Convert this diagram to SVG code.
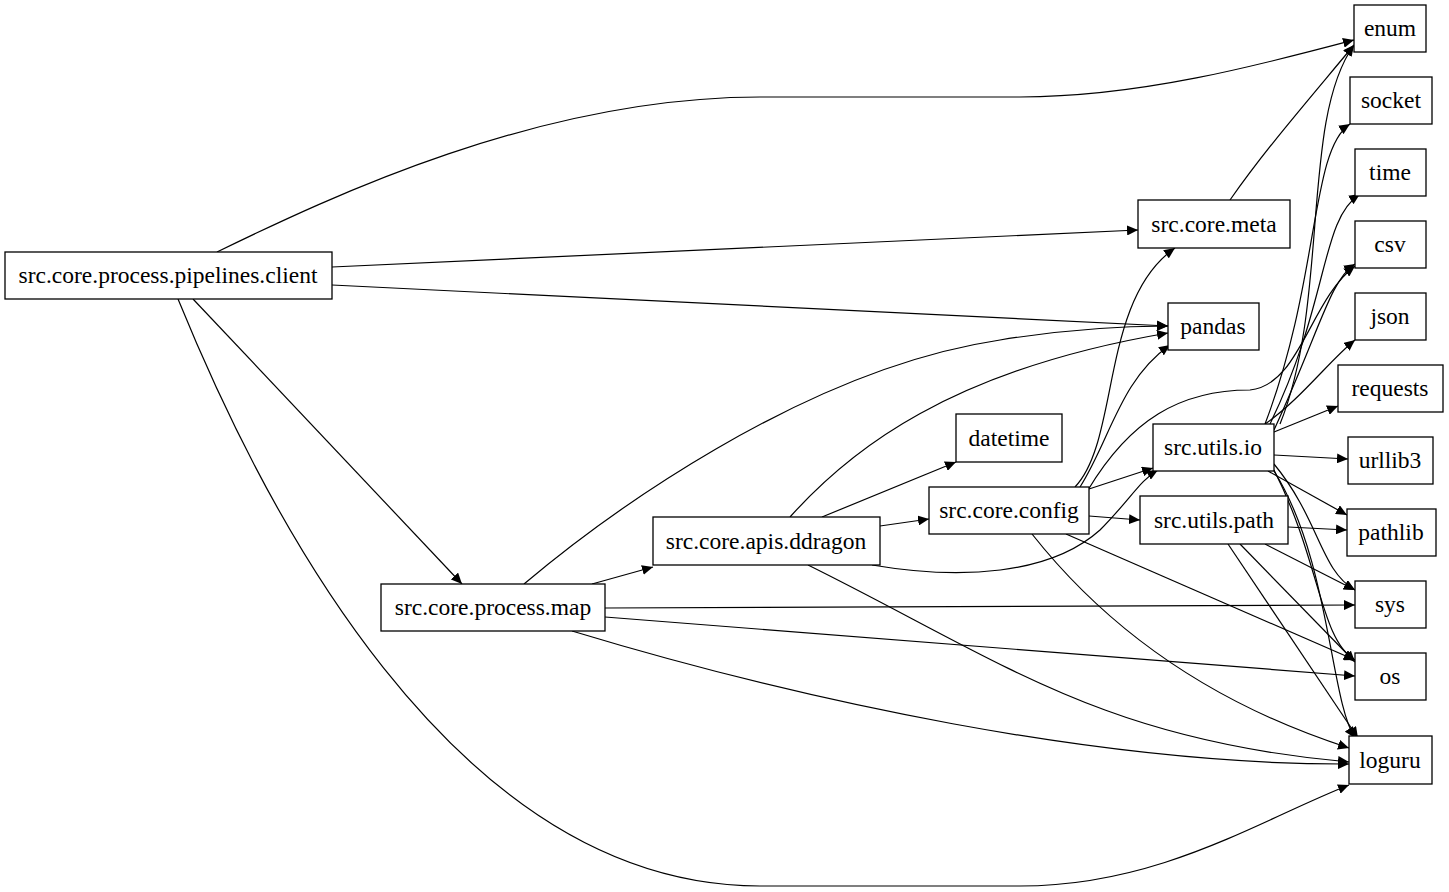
<svg xmlns="http://www.w3.org/2000/svg" width="1449" height="892" viewBox="0 0 1449 892">
<style>
rect{fill:#fff;stroke:#000;stroke-width:1.3}
text{font-family:"Liberation Serif",serif;font-size:23.5px;text-anchor:middle;dominant-baseline:central}
#edges path{fill:none;stroke:#000;stroke-width:1.2;marker-end:url(#a)}
</style>
<defs><marker id="a" markerUnits="userSpaceOnUse" markerWidth="12" markerHeight="10" refX="11" refY="5" orient="auto"><path d="M0,0L11,5L0,10z" fill="#000"/></marker></defs>
<rect x="0" y="0" width="1449" height="892" style="stroke:none"/>
<g id="edges">
<path d="M217,252C330,197 540,97 760,97H1020C1140,97 1260,65 1354,40"/>
<path d="M332,267L1138,230"/>
<path d="M332,285L1168,326"/>
<path d="M193,299L462,584"/>
<path d="M178,299C260,500 450,886 760,886H1020C1160,886 1260,820 1349,785"/>
<path d="M1230,200C1265,150 1300,110 1354,45"/>
<path d="M524,584C600,520 800,370 1000,340C1080,327 1140,326 1168,326"/>
<path d="M592,584L653,567"/>
<path d="M605,608L1355,605"/>
<path d="M605,617L1355,676"/>
<path d="M572,631C800,700 1100,765 1349,764"/>
<path d="M790,517C850,450 950,370 1168,333"/>
<path d="M822,517L956,462"/>
<path d="M880,526L929,519"/>
<path d="M872,565C960,580 1050,575 1100,530C1130,500 1140,480 1158,470"/>
<path d="M808,565C1000,660 1100,740 1349,762"/>
<path d="M1075,487C1120,440 1100,300 1175,248"/>
<path d="M1080,487C1110,440 1120,380 1170,345"/>
<path d="M1088,490C1130,420 1180,390 1250,390C1300,385 1310,300 1355,266"/>
<path d="M1089,489L1153,468"/>
<path d="M1089,516L1140,520"/>
<path d="M1066,534L1355,660"/>
<path d="M1032,534C1100,620 1200,700 1349,748"/>
<path d="M1280,424C1330,300 1300,120 1354,45"/>
<path d="M1265,424C1320,280 1310,150 1350,124"/>
<path d="M1270,424C1330,300 1320,220 1360,194"/>
<path d="M1274,430C1320,330 1330,280 1355,264"/>
<path d="M1265,424C1300,400 1330,360 1355,340"/>
<path d="M1274,432L1338,406"/>
<path d="M1274,455L1348,459"/>
<path d="M1268,471L1347,515"/>
<path d="M1274,464C1320,520 1320,570 1355,590"/>
<path d="M1274,470C1320,560 1320,640 1355,660"/>
<path d="M1274,471C1330,560 1330,700 1355,738"/>
<path d="M1288,527L1347,530"/>
<path d="M1265,544L1355,590"/>
<path d="M1240,544L1355,662"/>
<path d="M1228,544L1358,738"/>
</g>
<g id="enum"><rect x="1354" y="5" width="72" height="47"/><text x="1390" y="28">enum</text></g>
<g id="socket"><rect x="1350" y="77" width="82" height="47"/><text x="1391" y="100">socket</text></g>
<g id="time"><rect x="1355" y="149" width="71" height="47"/><text x="1390" y="172">time</text></g>
<g id="csv"><rect x="1355" y="221" width="71" height="47"/><text x="1390" y="244">csv</text></g>
<g id="json"><rect x="1355" y="293" width="71" height="47"/><text x="1390" y="316">json</text></g>
<g id="requests"><rect x="1338" y="365" width="105" height="47"/><text x="1390" y="388">requests</text></g>
<g id="urllib3"><rect x="1348" y="437" width="85" height="47"/><text x="1390" y="460">urllib3</text></g>
<g id="pathlib"><rect x="1347" y="509" width="89" height="47"/><text x="1391" y="532">pathlib</text></g>
<g id="sys"><rect x="1355" y="581" width="71" height="47"/><text x="1390" y="604">sys</text></g>
<g id="os"><rect x="1355" y="653" width="71" height="47"/><text x="1390" y="676">os</text></g>
<g id="loguru"><rect x="1349" y="736" width="83" height="48"/><text x="1390" y="760">loguru</text></g>
<g id="client"><rect x="5" y="252" width="327" height="47"/><text x="168" y="275">src.core.process.pipelines.client</text></g>
<g id="meta"><rect x="1138" y="200" width="152" height="48"/><text x="1214" y="224">src.core.meta</text></g>
<g id="pandas"><rect x="1168" y="303" width="91" height="47"/><text x="1213" y="326">pandas</text></g>
<g id="datetime"><rect x="956" y="414" width="106" height="48"/><text x="1009" y="438">datetime</text></g>
<g id="io"><rect x="1153" y="424" width="121" height="47"/><text x="1213" y="447">src.utils.io</text></g>
<g id="config"><rect x="929" y="487" width="160" height="47"/><text x="1009" y="510">src.core.config</text></g>
<g id="path"><rect x="1140" y="496" width="148" height="48"/><text x="1214" y="520">src.utils.path</text></g>
<g id="ddragon"><rect x="653" y="517" width="227" height="48"/><text x="766" y="541">src.core.apis.ddragon</text></g>
<g id="map"><rect x="381" y="584" width="224" height="47"/><text x="493" y="607">src.core.process.map</text></g>
</svg>
